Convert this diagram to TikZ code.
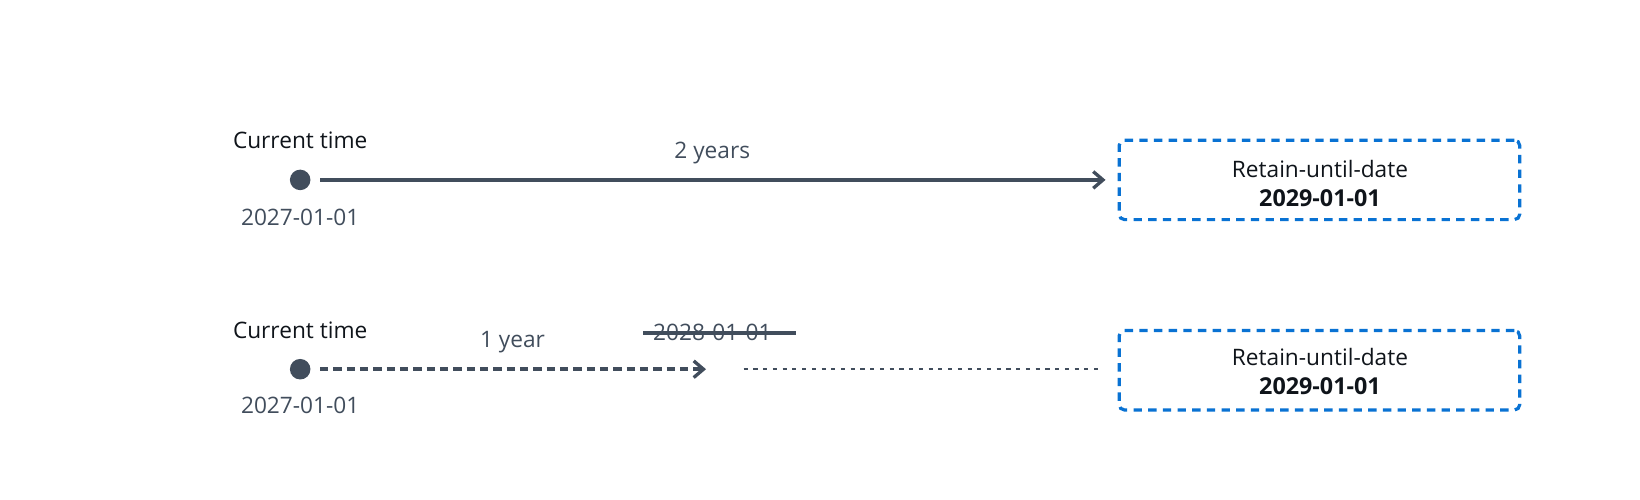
\documentclass[tikz,border=0pt]{standalone}
\usepackage{fontspec}
\setmainfont{Open Sans}
\usetikzlibrary{arrows.meta}
\definecolor{slate}{HTML}{414D5C}
\definecolor{ink}{HTML}{0F141A}
\definecolor{awsblue}{HTML}{0972D3}
\begin{document}
\begin{tikzpicture}[x=0.7844pt,y=-0.7844pt,
  lbl/.style={font=\fontsize{17}{20}\selectfont, text=ink, inner sep=0pt},
  glbl/.style={font=\fontsize{17}{20}\selectfont, text=slate, inner sep=0pt},
  dot/.style={circle, fill=slate, minimum size=15.4pt, inner sep=0pt},
  rbox/.style={draw=awsblue, line width=2.4pt, dash pattern=on 6.3pt off 4.7pt, rounded corners=4pt, minimum width=300.4pt, minimum height=59.6pt, inner sep=0pt},
  arr/.style={draw=slate, line width=3.1pt, -{Straight Barb[length=7.3pt,width=12.5pt,line width=2.5pt]}}]
\useasboundingbox (0,0) rectangle (1568,478);
% row 1
\node[dot] (d1) at (287,172) {};
\node[lbl] (ct1) at (287,134) {Current time};
\node[glbl] (s1) at (287,208) {2027-01-01};
\node[rbox] (b1) at (1261.5,172) {};
\node[lbl] (r1) at (1262,162) {Retain-until-date};
\node[lbl, font=\fontsize{17.5}{20}\selectfont\bfseries] (e1) at (1262,189) {2029-01-01};
\coordinate (a1s) at (306,172);
\coordinate (a1e) at (1057,172);
\draw[arr] (a1s) -- (a1e);
\node[glbl] (y2) at (681,146) {2 years};
% row 2
\node[dot] (d2) at (287,353) {};
\node[lbl] (ct2) at (287,316) {Current time};
\node[glbl] (s2) at (287,388) {2027-01-01};
\node[rbox] (b2) at (1261.5,354) {};
\node[lbl] (r2) at (1262,341) {Retain-until-date};
\node[lbl, font=\fontsize{17.5}{20}\selectfont\bfseries] (e2) at (1262,369) {2029-01-01};
\coordinate (a2s) at (306,353);
\coordinate (a2e) at (675,353);
\draw[arr, dash pattern=on 6.3pt off 3.7pt] (a2s) -- (a2e);
\node[glbl] (y1) at (490,327) {1 year};
\node[glbl] (old) at (681,318) {2028-01-01};
\coordinate (st1) at (615,318);
\coordinate (st2) at (761,318);
\draw[slate, line width=3.1pt] (st1) -- (st2);
\coordinate (dt1) at (711,353);
\coordinate (dt2) at (1050,353);
\draw[slate, line width=1.7pt, dash pattern=on 3.1pt off 4.2pt] (dt1) -- (dt2);
\end{tikzpicture}
\end{document}
